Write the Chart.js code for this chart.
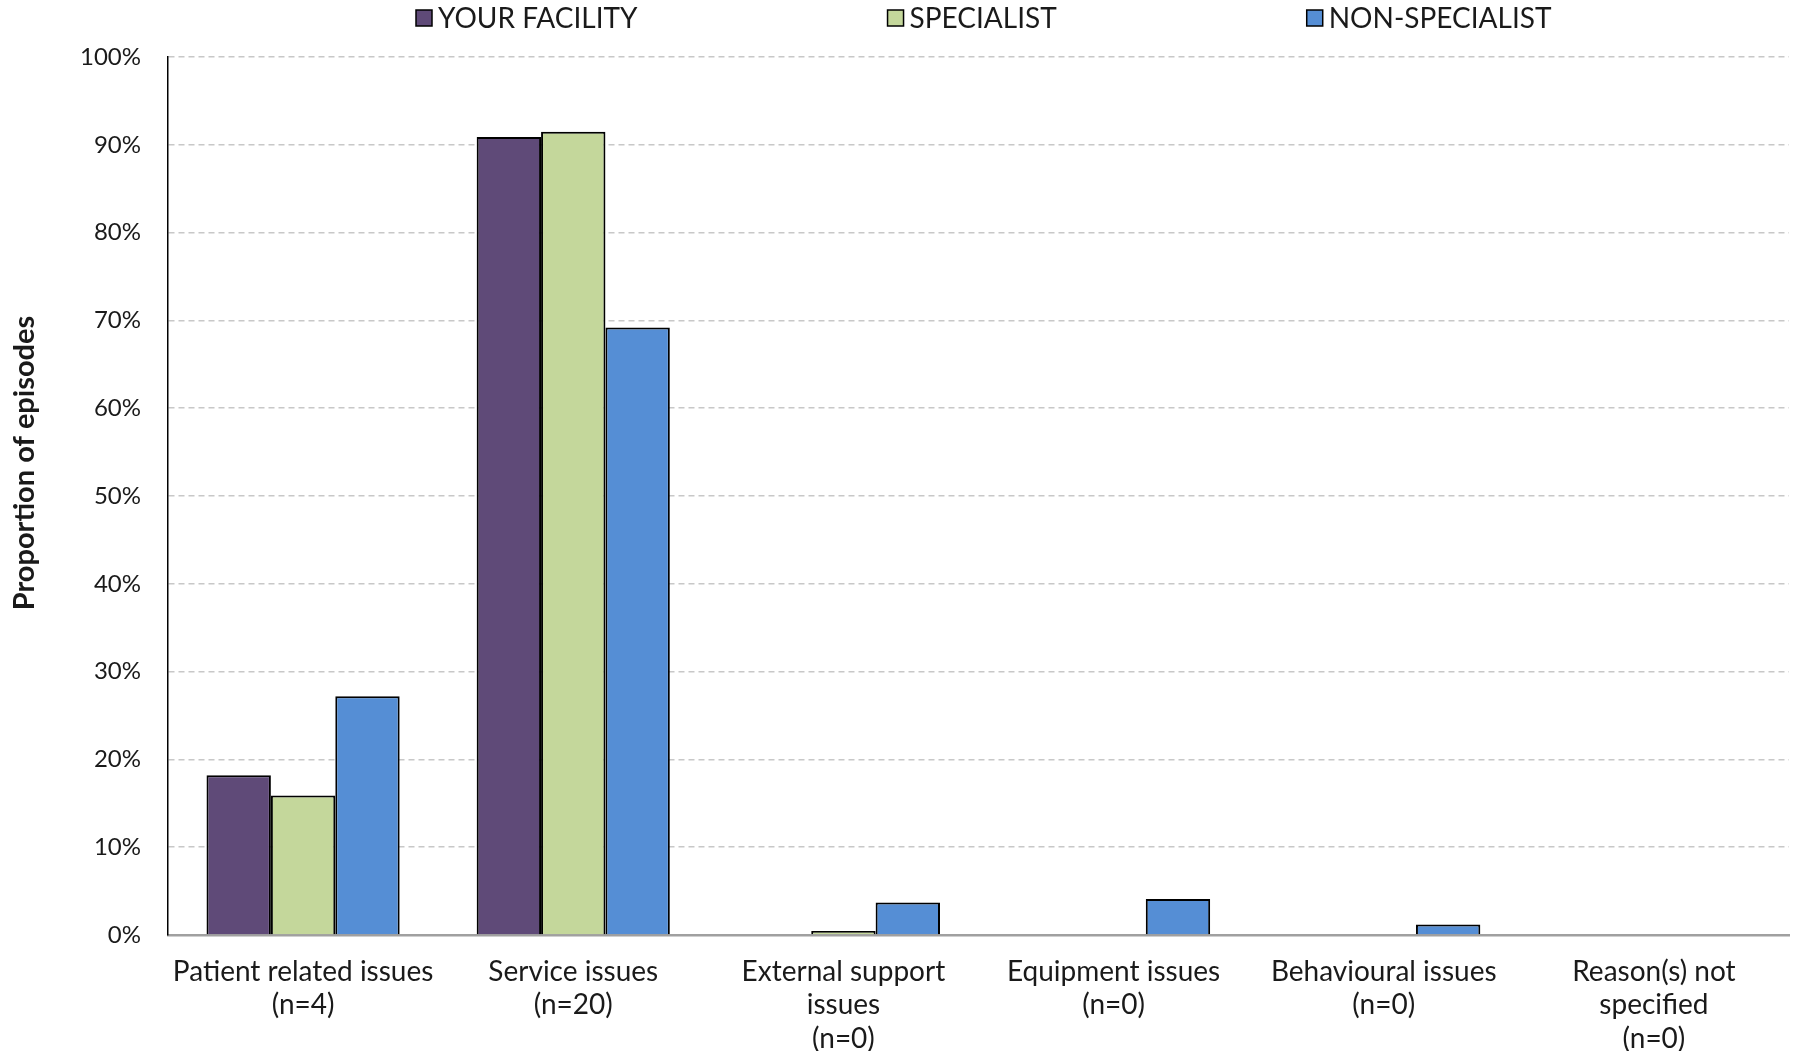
<!DOCTYPE html>
<html>
<head>
<meta charset="utf-8">
<script src="https://cdn.jsdelivr.net/npm/chart.js@4"></script>
<style>
  html, body { margin: 0; padding: 0; background: #fff; }
  #wrap { width: 1796px; height: 1051px; position: relative; }
</style>
</head>
<body>
<div id="wrap"><canvas id="reasonChart"></canvas></div>
<script>
// categories (multi-line labels as in the original)
const categories = [
    ['Patient related issues', '(n=4)'],
    ['Service issues', '(n=20)'],
    ['External support', 'issues', '(n=0)'],
    ['Equipment issues', '(n=0)'],
    ['Behavioural issues', '(n=0)'],
    ['Reason(s) not', 'specified', '(n=0)']
];

// series values, % of episodes
const yourFacility = [18.2, 90.9, 0, 0, 0, 0];
const specialist = [15.9, 91.5, 0.45, 0, 0, 0];
const nonSpecialist = [27.2, 69.2, 3.7, 4.1, 1.2, 0];

const seriesNames = ['YOUR FACILITY', 'SPECIALIST', 'NON-SPECIALIST'];
const seriesColors = ['#5f4a78', '#c4d79b', '#558ed5'];

const yTicks = [0, 10, 20, 30, 40, 50, 60, 70, 80, 90, 100];

const FONT = 'Lato, "Open Sans", sans-serif';
const TEXT = '#1a1a1a';

// legend across the top + rotated axis title, drawn by hand to match spacing
const extrasPlugin = {
    id: 'extras',
    afterDraw(chart) {
        const ctx = chart.ctx;
        ctx.save();
        ctx.font = '28px ' + FONT;
        ctx.textBaseline = 'middle';
        let x = 416;
        const y = 18;
        seriesNames.forEach((name, i) => {
            ctx.fillStyle = seriesColors[i];
            ctx.fillRect(x, y - 8, 16, 16);
            ctx.strokeStyle = '#000';
            ctx.lineWidth = 1.5;
            ctx.strokeRect(x, y - 8, 16, 16);
            ctx.fillStyle = TEXT;
            ctx.textAlign = 'left';
            ctx.fillText(name, x + 22, y + 1);
            x += 22 + ctx.measureText(name).width + 250;
        });

        ctx.translate(25, 463);
        ctx.rotate(-Math.PI / 2);
        ctx.font = 'bold 29px ' + FONT;
        ctx.textAlign = 'center';
        ctx.fillStyle = TEXT;
        ctx.fillText('Proportion of episodes', 0, 0);
        ctx.restore();
    }
};

const ctx = document.getElementById('reasonChart').getContext('2d');
new Chart(ctx, {
    type: 'bar',
    data: {
        labels: categories,
        datasets: [yourFacility, specialist, nonSpecialist].map((vals, i) => ({
            label: seriesNames[i],
            data: vals,
            backgroundColor: seriesColors[i],
            borderColor: '#000',
            borderWidth: 2,
            categoryPercentage: 0.715,
            barPercentage: 1.0
        }))
    },
    options: {
        responsive: true,
        maintainAspectRatio: false,
        animation: false,
        layout: {
            padding: { top: 57, right: 7, left: 0, bottom: 0 }
        },
        scales: {
            x: {
                z: 1,
                grid: { display: false, drawTicks: false },
                border: { display: true, color: '#a0a0a0', width: 2.5 },
                ticks: {
                    autoSkip: false,
                    maxRotation: 0,
                    minRotation: 0,
                    padding: 20,
                    color: TEXT,
                    font: { family: FONT, size: 28, lineHeight: 1.2 }
                },
                afterFit(scale) { scale.height = 116; }
            },
            y: {
                min: 0,
                max: 100,
                afterBuildTicks(scale) { scale.ticks = yTicks.map(v => ({ value: v })); },
                grid: {
                    color: '#c8c8c8',
                    lineWidth: 1.5,
                    drawTicks: false
                },
                border: { display: true, color: '#000', width: 1.5, dash: [6, 4] },
                ticks: {
                    padding: 27,
                    color: TEXT,
                    font: { family: FONT, size: 24 },
                    callback: v => v + '%'
                },
                afterFit(scale) { scale.width = 168; }
            }
        },
        plugins: {
            legend: { display: false },
            tooltip: { enabled: false },
            title: { display: false }
        }
    },
    plugins: [extrasPlugin]
});
</script>
</body>
</html>
